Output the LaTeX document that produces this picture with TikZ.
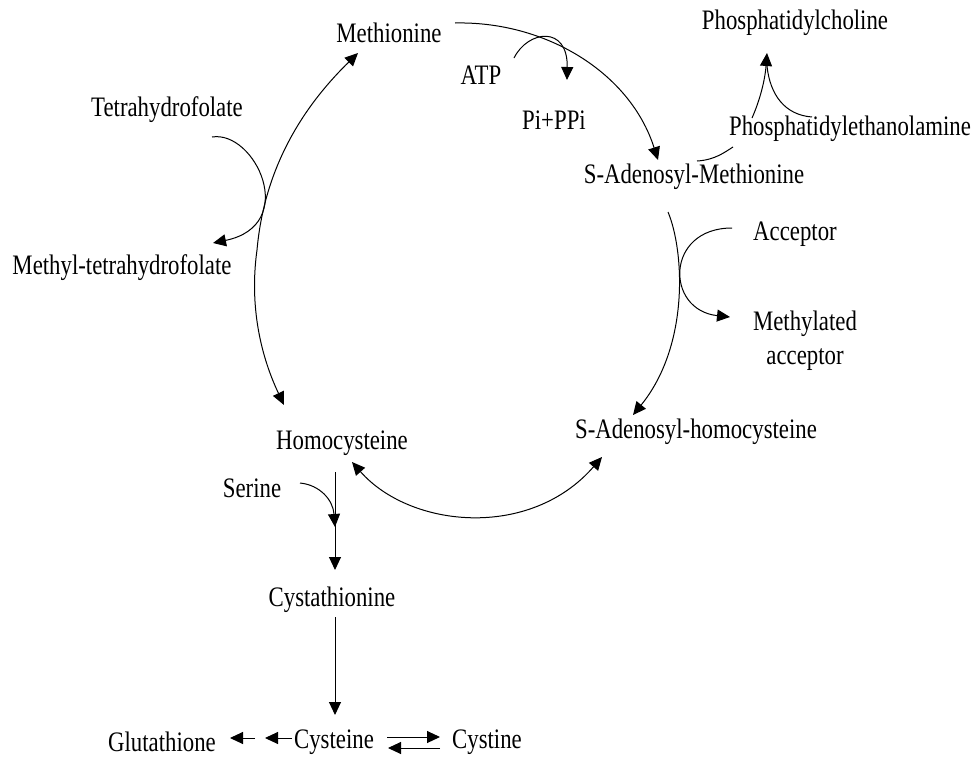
\documentclass[tikz,border=0pt]{standalone}
\usepackage{fontspec}
\setmainfont{Liberation Serif}
\usetikzlibrary{arrows.meta}
\newcommand{\tallt}[1]{\scalebox{0.97}[1.2]{#1}}
\begin{document}
\begin{tikzpicture}[x=1pt,y=-1pt,
  lbl/.style={inner sep=0pt,font=\fontsize{23.5}{34}\selectfont,align=center},
  con/.style={line width=1pt},
  arr/.style={con,-{Triangle[length=13pt,width=12pt]}},
  darr/.style={con,{Triangle[length=13pt,width=12pt]}-{Triangle[length=13pt,width=12pt]}}]
\useasboundingbox (0,0) rectangle (978,758);
% labels
\node[lbl] (met) at (389,33) {\tallt{Methionine}};
\node[lbl] (atp) at (481,75) {\tallt{ATP}};
\node[lbl] (pi) at (554,120) {\tallt{Pi+PPi}};
\node[lbl] (pc) at (795,23) {\tallt{Phosphatidylcholine}};
\node[lbl] (pe) at (850,129) {\tallt{Phosphatidylethanolamine}};
\node[lbl] (sam) at (694,177) {\tallt{S-Adenosyl-Methionine}};
\node[lbl] (thf) at (167,110) {\tallt{Tetrahydrofolate}};
\node[lbl] (mthf) at (122,268) {\tallt{Methyl-tetrahydrofolate}};
\node[lbl] (acc) at (795,234) {\tallt{Acceptor}};
\node[lbl] (macc) at (805,341) {\tallt{Methylated}\\\tallt{acceptor}};
\node[lbl] (sah) at (696,432) {\tallt{S-Adenosyl-homocysteine}};
\node[lbl] (hcy) at (342,443) {\tallt{Homocysteine}};
\node[lbl] (ser) at (252,488) {\tallt{Serine}};
\node[lbl] (cysta) at (332,600) {\tallt{Cystathionine}};
\node[lbl] (glu) at (162,742) {\tallt{Glutathione}};
\node[lbl] (cys) at (334,742) {\tallt{Cysteine}};
\node[lbl] (cyss) at (487,742) {\tallt{Cystine}};
% connector end points
\coordinate (metR) at (455,23);
\coordinate (samT) at (658,160);
\coordinate (atpR) at (514,58);
\coordinate (piT) at (567,80);
\coordinate (samB) at (668,212);
\coordinate (sahT) at (633,415);
\coordinate (accL) at (732,228);
\coordinate (maccL) at (730,317);
\coordinate (samR) at (697,161);
\coordinate (peL) at (733,147);
\coordinate (peT1) at (752,118);
\coordinate (peT2) at (812,117);
\coordinate (pcB) at (767,53);
\coordinate (pcJ) at (767,66);
\coordinate (thfR) at (212,137);
\coordinate (mthfR) at (213,243);
\coordinate (hcyT) at (284,405);
\coordinate (metB) at (358,53);
\coordinate (hcyR) at (352,462);
\coordinate (sahB) at (602,457);
\coordinate (serR) at (300,483);
\coordinate (vj) at (335,527);
\coordinate (v1) at (335,472);
\coordinate (v2) at (335,570);
\coordinate (v3) at (335,617);
\coordinate (v4) at (335,715);
\coordinate (g1) at (255,738);
\coordinate (g2) at (230,738);
\coordinate (g3) at (292,738);
\coordinate (g4) at (265,738);
\coordinate (c1) at (387,737);
\coordinate (c2) at (440,737);
\coordinate (c3) at (440,748);
\coordinate (c4) at (388,748);
% cycle
\draw[arr] (metR) .. controls (545,21) and (630,72) .. (samT);
\draw[arr] (atpR) .. controls (528,30) and (568,25) .. (piT);
\draw[arr] (samB) .. controls (684,250) and (690,345) .. (sahT);
\draw[arr] (accL) .. controls (665,228) and (665,310) .. (maccL);
\draw[con] (samR) .. controls (715,160) and (725,152) .. (peL);
\draw[arr] (peT1) .. controls (760,100) and (765,80) .. (pcB);
\draw[con] (peT2) .. controls (785,115) and (770,95) .. (pcJ);
\draw[arr] (thfR) .. controls (255,130) and (300,225) .. (mthfR);
\draw[darr] (hcyT) .. controls (258,350) and (250,300) .. (257,250)
  .. controls (265,160) and (310,100) .. (metB);
\draw[darr] (hcyR) .. controls (410,528) and (530,540) .. (sahB);
% transsulfuration
\draw[arr] (serR) .. controls (320,485) and (333,500) .. (vj);
\draw[arr] (v1) -- (v2);
\draw[arr] (v3) -- (v4);
\draw[arr] (g1) -- (g2);
\draw[arr] (g3) -- (g4);
\draw[arr] (c1) -- (c2);
\draw[arr] (c3) -- (c4);
\end{tikzpicture}
\end{document}
